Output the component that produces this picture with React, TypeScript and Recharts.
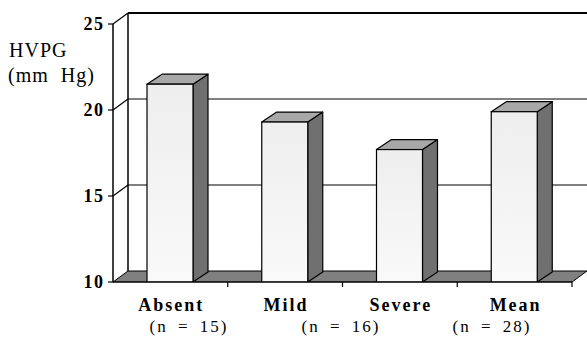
import React from 'react';
import { BarChart, Bar, XAxis, YAxis, CartesianGrid } from 'recharts';

const categories = ['Absent', 'Mild', 'Severe', 'Mean'];
const hvpgValues = [21.5, 19.3, 17.7, 19.9];
const sampleSizes = ['(n = 15)', '(n = 16)', '(n = 28)'];
const yTicks = [10, 15, 20, 25];
const yTitle = ['HVPG', '(mm Hg)'];

const data = categories.map((c, i) => ({ category: c, hvpg: hvpgValues[i] }));

const FONT = '"Liberation Serif", "Times New Roman", Times, serif';
const WALL_DX = 15;
const WALL_DY = 11;
const BAR_DX = 15;
const BAR_DY = 10;

const Bar3D = (props: any) => {
  const { x, y, width, height } = props;
  if (width == null || height == null) return null;
  const r = x + width;
  const b = y + height;
  return (
    <g>
      <polygon
        points={`${r},${y} ${r + BAR_DX},${y - BAR_DY} ${r + BAR_DX},${b - BAR_DY} ${r},${b}`}
        fill="#707070"
        stroke="#000"
        strokeWidth={1.2}
        strokeLinejoin="round"
      />
      <polygon
        points={`${x},${y} ${x + BAR_DX},${y - BAR_DY} ${r + BAR_DX},${y - BAR_DY} ${r},${y}`}
        fill="#a8a8a8"
        stroke="#000"
        strokeWidth={1.2}
        strokeLinejoin="round"
      />
      <rect x={x} y={y} width={width} height={height} fill="url(#frontGrad)" stroke="#000" strokeWidth={1.2} />
    </g>
  );
};

const gridLine = (props: any) => {
  const { x1, y1, x2, index, horizontalPoints } = props;
  const pts: number[] = Array.isArray(horizontalPoints) ? horizontalPoints : [];
  const top = props.y != null ? props.y : Math.min(...pts);
  const bottom = props.y != null && props.height != null ? props.y + props.height : Math.max(...pts);
  const isTop = Math.abs(y1 - top) < 0.5;
  const isBottom = Math.abs(y1 - bottom) < 0.5;
  if (isBottom) {
    return (
      <g key={`hl-${index}`}>
        <line x1={x1 + WALL_DX} y1={top - WALL_DY} x2={x1 + WALL_DX} y2={y1 - WALL_DY} stroke="#000" strokeWidth={1.5} />
        <polygon
          points={`${x1},${y1} ${x2},${y1} ${x2 + WALL_DX},${y1 - WALL_DY} ${x1 + WALL_DX},${y1 - WALL_DY}`}
          fill="#808080"
          stroke="#000"
          strokeWidth={1}
        />
      </g>
    );
  }
  return (
    <g key={`hl-${index}`}>
      <line x1={x1} y1={y1} x2={x1 + WALL_DX} y2={y1 - WALL_DY} stroke="#000" strokeWidth={1.2} />
      <line
        x1={x1 + WALL_DX}
        y1={y1 - WALL_DY}
        x2={x2 + WALL_DX}
        y2={y1 - WALL_DY}
        stroke="#000"
        strokeWidth={isTop ? 2.2 : 1}
      />
    </g>
  );
};

const XTick = (props: any) => {
  const { x, y, payload } = props;
  const off = payload && payload.offset ? payload.offset : 0;
  return (
    <g>
      <line x1={x + off} y1={y} x2={x + off} y2={y + 5} stroke="#000" strokeWidth={1.2} />
      <text
        x={x + 1}
        y={y + 29}
        textAnchor="middle"
        style={{ fontFamily: FONT }}
        fontWeight="bold"
        fontSize={18}
        letterSpacing={2}
        fill="#000"
      >
        {payload.value}
      </text>
    </g>
  );
};

const YTick = (props: any) => {
  const { x, y, payload } = props;
  return (
    <text
      x={x + 1.5}
      y={y + 6}
      textAnchor="end"
      style={{ fontFamily: FONT }}
      fontWeight="bold"
      fontSize={18}
      letterSpacing={1.5}
      fill="#000"
    >
      {payload.value}
    </text>
  );
};

const nCenters = [188, 340, 491];

export default function App() {
  return (
    <div style={{ position: 'absolute', left: 0, top: 0, width: 587, height: 345, background: '#fff' }}>
      <BarChart
        width={587}
        height={345}
        data={data}
        margin={{ top: 24, right: 15, left: 0, bottom: 0 }}
        barSize={46}
      >
        <defs>
          <linearGradient id="frontGrad" x1="0" y1="0" x2="0" y2="1">
            <stop offset="0%" stopColor="#eeeeee" />
            <stop offset="100%" stopColor="#f9f9f9" />
          </linearGradient>
        </defs>
        <CartesianGrid vertical={false} horizontal={gridLine} />
        <XAxis
          dataKey="category"
          height={63}
          tickSize={0}
          tickMargin={0}
          tickLine={false}
          axisLine={{ stroke: '#000', strokeWidth: 1.2 }}
          tick={<XTick />}
          interval={0}
        />
        <YAxis
          width={113}
          domain={[10, 25]}
          ticks={yTicks}
          allowDataOverflow
          tickSize={5}
          tickMargin={5}
          tickLine={{ stroke: '#000', strokeWidth: 1.2 }}
          axisLine={{ stroke: '#000', strokeWidth: 1.5 }}
          tick={<YTick />}
        />
        <Bar dataKey="hvpg" shape={<Bar3D />} isAnimationActive={false} />
      </BarChart>
      <svg
        width={587}
        height={345}
        style={{ position: 'absolute', left: 0, top: 0, pointerEvents: 'none' }}
      >
        <text x={9} y={57} style={{ fontFamily: FONT }} fontSize={20} letterSpacing={1} fill="#000">
          {yTitle[0]}
        </text>
        <text x={8} y={82} style={{ fontFamily: FONT }} fontSize={20} letterSpacing={1} wordSpacing={6} fill="#000">
          {yTitle[1]}
        </text>
        {sampleSizes.map((s, i) => (
          <text
            key={s}
            x={nCenters[i] + 1}
            y={332}
            textAnchor="middle"
            style={{ fontFamily: FONT }}
            fontSize={17}
            letterSpacing={2}
            wordSpacing={4}
            fill="#000"
          >
            {s}
          </text>
        ))}
      </svg>
    </div>
  );
}
